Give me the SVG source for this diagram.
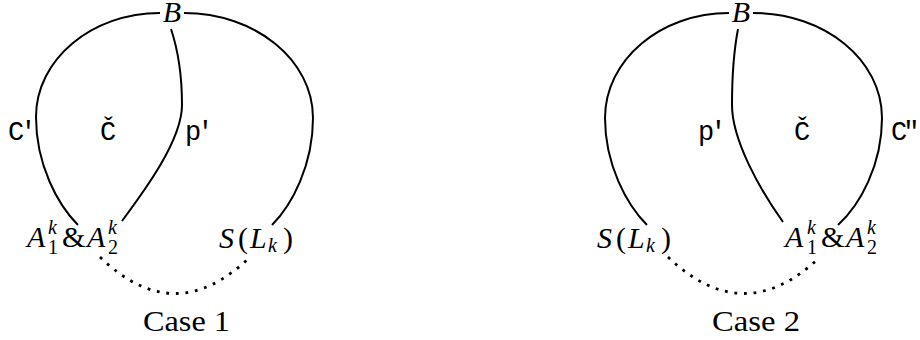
<svg xmlns="http://www.w3.org/2000/svg" width="920" height="340" viewBox="0 0 920 340">
<style>
.e{fill:none;stroke:#000;stroke-width:2}
.d{fill:none;stroke:#000;stroke-width:2.8;stroke-dasharray:2.8 6.8}
.m{font-family:"Liberation Serif","Times New Roman",serif;font-size:30px;fill:#000}
.i{font-style:italic}
.s{font-size:20px}
.t{font-family:"Liberation Mono","DejaVu Sans Mono",monospace;font-size:27px;fill:#000}
.n{letter-spacing:-4px}
</style>
<rect width="920" height="340" fill="#fff"/>
<g id="connectors">
<path class="e" d="M160,13 C91.5,13 36,59.6 36,117 C36,165 58,205 78,225"/>
<path class="e" d="M184,13 C255.3,13 313,60 313,118 C313,165 292,205 272,225"/>
<path class="e" d="M171,29 C178,50 182,75 182,105 C182,140 145,190 122,221"/>
<path class="d" d="M100,257 Q175,330 250,257"/>
<path class="e" d="M729,13 C660.5,13 605,60 605,118 C605,165 627,205 647,225"/>
<path class="e" d="M753,13 C824.8,13 882,60 882,118 C882,165 860,205 838,225"/>
<path class="e" d="M738,29 C734,50 732,75 732,105 C732,140 760,190 783,222"/>
<path class="d" d="M668,257 Q744,330 820,257"/>
</g>
<g id="case1">
<g id="B1"><text class="m i" x="172" y="22" text-anchor="middle">B</text></g>
<g id="A1">
<text class="m i" x="27" y="247">A</text>
<text class="m i s" x="48" y="234">k</text>
<text class="m s" x="48" y="254">1</text>
<text class="m" x="62" y="247">&amp;</text>
<text class="m i" x="87" y="247">A</text>
<text class="m i s" x="108" y="234">k</text>
<text class="m s" x="108" y="254">2</text>
</g>
<g id="S1">
<text class="m i" x="219" y="248">S</text>
<text class="m" x="238" y="248">(</text>
<text class="m i" x="250" y="248">L</text>
<text class="m i s" x="268" y="252">k</text>
<text class="m" x="283" y="248">)</text>
</g>
<g id="labels1">
<text class="t n" x="8" y="140">C′</text>
<text class="t" x="108" y="140" text-anchor="middle">Č</text>
<text class="t n" x="185" y="140">p′</text>
</g>
<text class="m" x="143" y="331" textLength="87" lengthAdjust="spacingAndGlyphs">Case 1</text>
</g>
<g id="case2">
<g id="B2"><text class="m i" x="741" y="22" text-anchor="middle">B</text></g>
<g id="A2">
<text class="m i" x="785" y="247">A</text>
<text class="m i s" x="807" y="234">k</text>
<text class="m s" x="807" y="254">1</text>
<text class="m" x="821" y="247">&amp;</text>
<text class="m i" x="846" y="247">A</text>
<text class="m i s" x="867" y="234">k</text>
<text class="m s" x="867" y="254">2</text>
</g>
<g id="S2">
<text class="m i" x="597" y="248">S</text>
<text class="m" x="616" y="248">(</text>
<text class="m i" x="628" y="248">L</text>
<text class="m i s" x="646" y="252">k</text>
<text class="m" x="661" y="248">)</text>
</g>
<g id="labels2">
<text class="t n" x="698" y="140">p′</text>
<text class="t" x="802" y="140" text-anchor="middle">Č</text>
<text class="t n" x="891" y="140">C″</text>
</g>
<text class="m" x="712" y="331" textLength="88" lengthAdjust="spacingAndGlyphs">Case 2</text>
</g>
</svg>
